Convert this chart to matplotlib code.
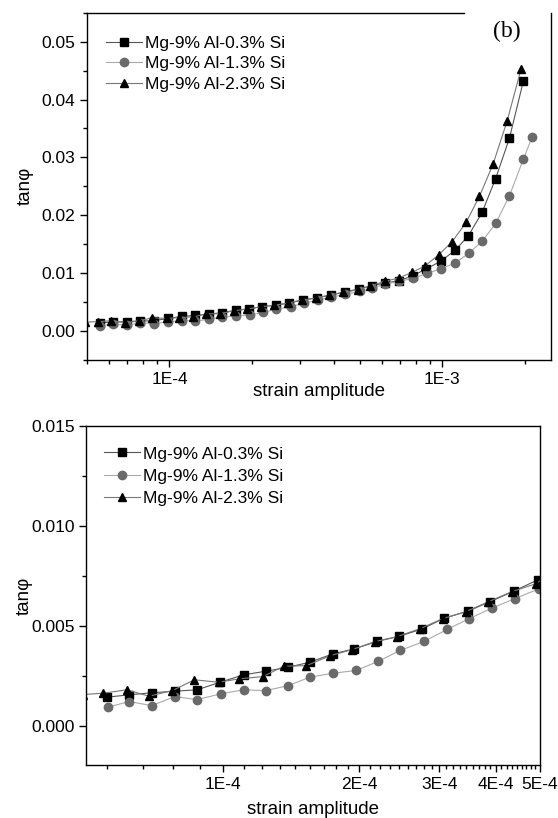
import numpy as np
import matplotlib
matplotlib.use("Agg")
import matplotlib.pyplot as plt
from matplotlib.ticker import FixedLocator, NullFormatter, MultipleLocator, LogLocator

plt.rcParams['font.family'] = ['Liberation Sans', 'DejaVu Sans']

# data (strain amplitude, tan phi)
labels = ['Mg-9% Al-0.3% Si', 'Mg-9% Al-1.3% Si', 'Mg-9% Al-2.3% Si']

sq_x = [5.55e-5, 6.21e-5, 6.96e-5, 7.83e-5, 8.77e-5, 9.86e-5, 1.11e-4, 1.243e-4,
        1.393e-4, 1.553e-4, 1.748e-4, 1.95e-4, 2.19e-4, 2.45e-4, 2.75e-4, 3.08e-4,
        3.47e-4, 3.89e-4, 4.38e-4, 4.95e-4, 5.5e-4, 6.18e-4, 6.96e-4, 7.79e-4,
        8.71e-4, 9.84e-4, 1.116e-3, 1.245e-3, 1.397e-3, 1.567e-3, 1.76e-3, 1.98e-3]
sq_y = [0.00142, 0.00154, 0.00164, 0.00172, 0.00179, 0.00217, 0.00254, 0.00272,
        0.00292, 0.00317, 0.00359, 0.00384, 0.00422, 0.00447, 0.00484, 0.00538,
        0.00573, 0.00621, 0.00673, 0.0073, 0.00784, 0.00831, 0.00871, 0.00957,
        0.01072, 0.01204, 0.0140, 0.01647, 0.02049, 0.02635, 0.03331, 0.04319]

ci_x = [5.57e-5, 6.21e-5, 6.96e-5, 7.83e-5, 8.77e-5, 9.9e-5, 1.11e-4, 1.243e-4,
        1.393e-4, 1.555e-4, 1.748e-4, 1.97e-4, 2.2e-4, 2.46e-4, 2.78e-4, 3.12e-4,
        3.49e-4, 3.92e-4, 4.4e-4, 4.98e-4, 5.52e-4, 6.18e-4, 6.96e-4, 7.79e-4,
        8.79e-4, 9.84e-4, 1.116e-3, 1.25e-3, 1.397e-3, 1.567e-3, 1.76e-3, 1.98e-3,
        2.13e-3]
ci_y = [0.00092, 0.0012, 0.0010, 0.00145, 0.0013, 0.00159, 0.00179, 0.00175,
        0.0020, 0.00242, 0.00262, 0.00276, 0.00322, 0.00376, 0.00422, 0.00481,
        0.00535, 0.00588, 0.00635, 0.00685, 0.0074, 0.00814, 0.00859, 0.0091,
        0.00997, 0.01072, 0.01176, 0.01348, 0.01548, 0.01859, 0.02336, 0.02969,
        0.03353]

tr_x = [4.9e-5, 5.45e-5, 6.13e-5, 6.87e-5, 7.73e-5, 8.65e-5, 9.78e-5, 1.087e-4,
        1.224e-4, 1.362e-4, 1.528e-4, 1.725e-4, 1.925e-4, 2.16e-4, 2.42e-4,
        2.72e-4, 3.05e-4, 3.43e-4, 3.85e-4, 4.33e-4, 4.9e-4, 5.45e-4, 6.15e-4,
        6.92e-4, 7.75e-4, 8.66e-4, 9.7e-4, 1.085e-3, 1.221e-3, 1.366e-3, 1.533e-3,
        1.726e-3, 1.94e-3]
tr_y = [0.00155, 0.00162, 0.00179, 0.00147, 0.00175, 0.00229, 0.00217, 0.00234,
        0.00245, 0.00297, 0.0030, 0.0035, 0.0038, 0.0042, 0.00445, 0.00485,
        0.00535, 0.0057, 0.0062, 0.0067, 0.0071, 0.0078, 0.00859, 0.00917,
        0.01014, 0.01129, 0.01319, 0.01543, 0.01876, 0.02325, 0.02882, 0.03629,
        0.0452]

top_xticks = [1e-4, 1e-3]
top_xticklabels = ['1E-4', '1E-3']
bot_xticks = [1e-4, 2e-4, 3e-4, 4e-4, 5e-4]
bot_xticklabels = ['1E-4', '2E-4', '3E-4', '4E-4', '5E-4']

fig = plt.figure(figsize=(5.58, 8.18), dpi=100)
ax1 = fig.add_axes([0.1565, 0.5599, 0.831, 0.4246])
ax2 = fig.add_axes([0.155, 0.0642, 0.8125, 0.415])


def draw(ax):
    ax.plot(sq_x, sq_y, '-', color='#555555', lw=0.8, marker='s', ms=5.5,
            mfc='black', mec='black', label=labels[0])
    ax.plot(ci_x, ci_y, '-', color='#aaaaaa', lw=0.8, marker='o', ms=6,
            mfc='#6a6a6a', mec='#6a6a6a', label=labels[1])
    ax.plot(tr_x, tr_y, '-', color='#777777', lw=0.8, marker='^', ms=6,
            mfc='black', mec='black', label=labels[2])
    ax.set_xscale('log')
    for s in ax.spines.values():
        s.set_linewidth(1.0)
    ax.tick_params(which='major', direction='out', length=5, width=1, labelsize=12.5)
    ax.tick_params(which='minor', direction='out', length=3, width=1)
    ax.tick_params(top=False, right=False, which='both')


# top panel
draw(ax1)
ax1.set_xlim(5e-5, 2.5e-3)
ax1.set_ylim(-0.005, 0.055)
ax1.xaxis.set_major_locator(FixedLocator(top_xticks))
ax1.set_xticklabels(top_xticklabels)
ax1.xaxis.set_minor_locator(LogLocator(base=10, subs=np.arange(2, 10)))
ax1.xaxis.set_minor_formatter(NullFormatter())
ax1.yaxis.set_major_locator(MultipleLocator(0.01))
ax1.yaxis.set_minor_locator(MultipleLocator(0.005))
ax1.yaxis.set_major_formatter(plt.FormatStrFormatter('%.2f'))
ax1.spines['top'].set_bounds(5e-5, 1.2e-3)
ax1.set_xlabel('strain amplitude', fontsize=13.5, labelpad=-3)
ax1.set_ylabel('tan\u03c6', fontsize=13.5, labelpad=6)
ax1.text(0.905, 0.947, '(b)', transform=ax1.transAxes, fontsize=17,
         family='Liberation Serif', ha='center', va='center')
ax1.legend(loc='upper left', bbox_to_anchor=(0.04, 0.933), frameon=False,
           fontsize=12.5, handlelength=2.1, handletextpad=0.15,
           labelspacing=0.3, borderaxespad=0, borderpad=0)

# bottom panel
draw(ax2)
ax2.set_xlim(5e-5, 5e-4)
ax2.set_ylim(-0.002, 0.015)
ax2.xaxis.set_major_locator(FixedLocator(bot_xticks))
ax2.set_xticklabels(bot_xticklabels)
minor = [k * 1e-4 / 9 for k in range(5, 46) if k % 9 != 0]
ax2.xaxis.set_minor_locator(FixedLocator(minor))
ax2.xaxis.set_minor_formatter(NullFormatter())
ax2.yaxis.set_major_locator(MultipleLocator(0.005))
ax2.yaxis.set_minor_locator(MultipleLocator(0.0025))
ax2.yaxis.set_major_formatter(plt.FormatStrFormatter('%.3f'))
ax2.set_xlabel('strain amplitude', fontsize=13.5, labelpad=6)
ax2.set_ylabel('tan\u03c6', fontsize=13.5, labelpad=-1)
ax2.legend(loc='upper left', bbox_to_anchor=(0.038, 0.94), frameon=False,
           fontsize=12.5, handlelength=2.1, handletextpad=0.15,
           labelspacing=0.4, borderaxespad=0, borderpad=0)

fig.savefig('out.png', dpi=100)
